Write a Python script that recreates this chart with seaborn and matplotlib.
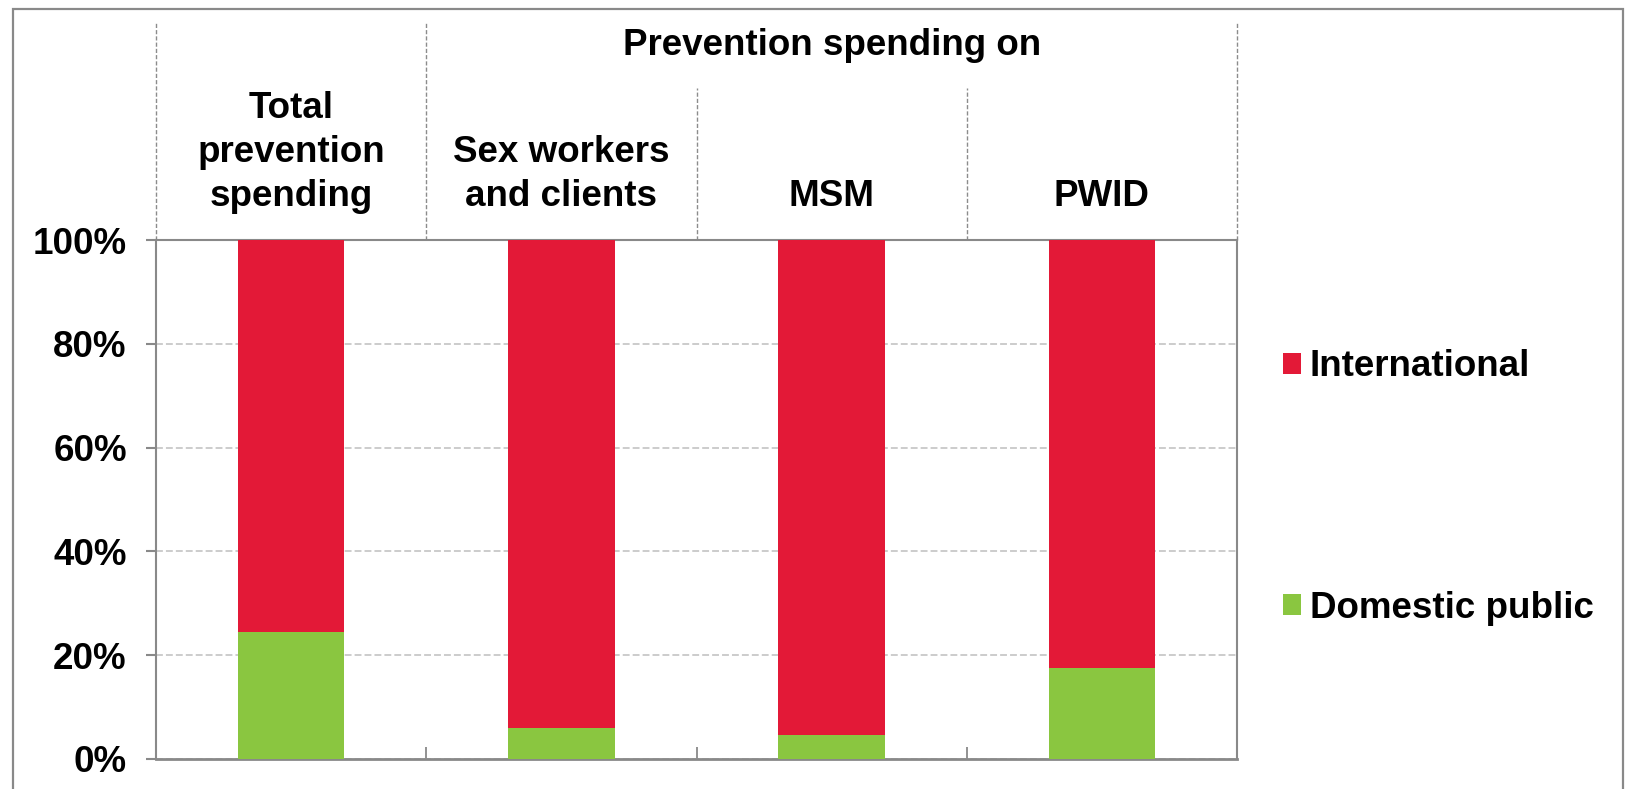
import matplotlib
matplotlib.use("Agg")
import matplotlib.pyplot as plt
from matplotlib.patches import Patch, Rectangle
import seaborn as sns
import pandas as pd

# ---- data ----
categories = ["Total\nprevention\nspending", "Sex workers\nand clients", "MSM", "PWID"]
domestic_public = [24.4, 5.9, 4.6, 17.5]
international = [75.6, 94.1, 95.4, 82.5]
series_names = ["International", "Domestic public"]
ytick_values = [0, 20, 40, 60, 80, 100]
ytick_labels = ["0%", "20%", "40%", "60%", "80%", "100%"]
group_title = "Prevention spending on"

RED = "#E31937"
GREEN = "#8AC640"
GRAY = "#898989"
FS = 26.5

sns.set_theme(style="white")
plt.rcParams["font.family"] = ["Liberation Sans", "DejaVu Sans"]
plt.rcParams["font.weight"] = "bold"
plt.rcParams["text.color"] = "black"

W, H = 1626, 789
fig = plt.figure(figsize=(W / 100, H / 100), dpi=100)
ax = fig.add_axes([156 / W, (H - 759) / H, (1237 - 156) / W, (759 - 240) / H])

df = pd.DataFrame({
    "cat": categories,
    "dom": domestic_public,
    "total": [d + i for d, i in zip(domestic_public, international)],
})

sns.barplot(data=df, x="cat", y="total", color=RED, width=0.395, ax=ax,
            saturation=1, edgecolor="none", linewidth=0, zorder=3)
sns.barplot(data=df, x="cat", y="dom", color=GREEN, width=0.395, ax=ax,
            saturation=1, edgecolor="none", linewidth=0, zorder=3)

ax.set_xlim(-0.5, len(categories) - 0.5)
ax.set_ylim(0, 100)
ax.set_xlabel("")
ax.set_ylabel("")

# y axis
ax.set_yticks(ytick_values)
ax.set_yticklabels(ytick_labels, fontsize=FS, fontweight="bold", color="black")
ax.tick_params(axis="y", direction="out", length=7, width=1.5, color=GRAY, pad=14, left=True)
ax.yaxis.grid(True, linestyle=(0, (4.5, 2)), linewidth=1.1, color="#BFBFBF", zorder=0)
ax.xaxis.grid(False)
ax.set_axisbelow(True)

# x ticks at category boundaries, pointing inward
ax.set_xticks([i + 0.5 for i in range(len(categories) - 1)])
ax.set_xticklabels([""] * (len(categories) - 1))
ax.tick_params(axis="x", direction="in", length=8.5, width=1.3, color=GRAY, bottom=True)

for s in ["left", "right", "top", "bottom"]:
    ax.spines[s].set_visible(True)
    ax.spines[s].set_color(GRAY)
    ax.spines[s].set_linewidth(1.5)
ax.spines["bottom"].set_linewidth(2.0)

# header separators
top_outer = (759 - 22.7) / 519
top_inner = (759 - 88.3) / 519
trans = ax.get_xaxis_transform()
n = len(categories)
for xb in [-0.5, 0.5, n - 0.5]:
    ax.plot([xb, xb], [1, top_outer], transform=trans, clip_on=False,
            color="#8C8C8C", lw=1.0, linestyle=(0, (3, 1.5)))
for xb in [1.5, 2.5]:
    ax.plot([xb, xb], [1, top_inner], transform=trans, clip_on=False,
            color="#8C8C8C", lw=1.0, linestyle=(0, (3, 1.5)))

# category header labels
for i, c in enumerate(categories):
    ax.text(i, (759 - 214) / 519, c, transform=trans, ha="center", va="bottom",
            fontsize=FS, fontweight="bold", linespacing=1.33, color="black")

ax.text((1 + n - 1) / 2, (759 - 55) / 519, group_title, transform=trans,
        ha="center", va="baseline", fontsize=FS, fontweight="bold", color="black")

# legend
handles = [Patch(facecolor=RED, edgecolor="none"), Patch(facecolor=GREEN, edgecolor="none")]
fig.legend(handles, series_names, loc="upper left",
           bbox_to_anchor=(1283 / W, (H - 349.5) / H), frameon=False,
           prop={"size": FS, "weight": "bold"}, handlelength=0.5, handleheight=0.5,
           handletextpad=0.22, labelspacing=5.6, borderpad=0, borderaxespad=0,
           labelcolor="black")

# outer frame
fig.patches.append(Rectangle((12.7 / W, -0.05), (1623 - 12.7) / W, 1.05 - 9 / H,
                             transform=fig.transFigure, fill=False,
                             edgecolor=GRAY, linewidth=1.6, zorder=10))

fig.savefig("out.png", dpi=100)
